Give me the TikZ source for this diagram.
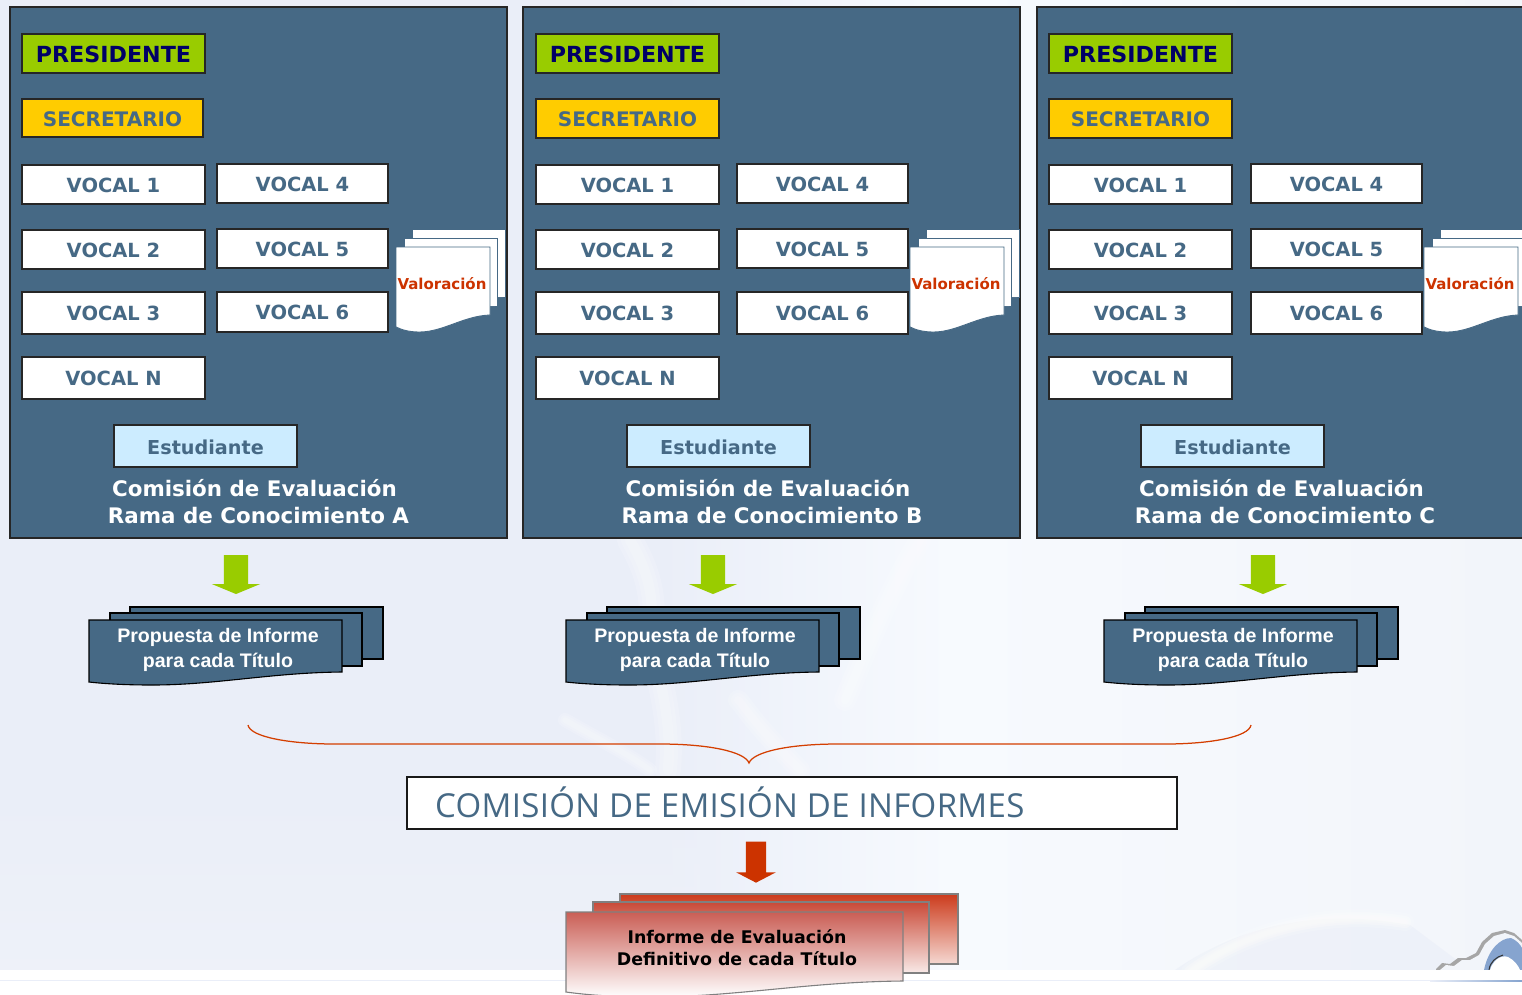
\documentclass[tikz,border=0pt]{standalone}
\usepackage{fontspec}
\setmainfont{DejaVu Sans}
\newfontfamily\arialf{Liberation Sans}
\newfontfamily\lightf[LetterSpace=1]{Open Sans}
\usetikzlibrary{shapes.arrows,calc}
\definecolor{panelblue}{HTML}{466985}
\definecolor{bgblue}{HTML}{EAEEF8}
\definecolor{bgpale}{HTML}{F7FAFE}
\definecolor{bgright}{HTML}{F2F5FA}
\definecolor{limeg}{HTML}{99CC00}
\definecolor{gold}{HTML}{FFCC00}
\definecolor{redo}{HTML}{CC3300}
\definecolor{pale}{HTML}{CCECFF}
\definecolor{navy}{HTML}{000066}
\definecolor{emblem}{HTML}{86A4CF}
\tikzset{
 panel/.style={draw=black!85,line width=1.2pt,fill=panelblue},
 bx/.style={draw=black!85,line width=1.2pt,inner sep=0pt,font=\bfseries\fontsize{19.5}{20}\selectfont},
 presbox/.style={bx,fill=limeg,text=navy,text height=18.2pt,text depth=0pt,font=\bfseries\fontsize{22.2}{22}\selectfont},
 secbox/.style={bx,fill=gold,text=panelblue,text height=16.6pt,text depth=0pt,font=\bfseries\fontsize{20}{20}\selectfont},
 vocalbox/.style={bx,fill=white,text=panelblue,text height=15.6pt,text depth=0pt},
 estbox/.style={bx,fill=pale,text=panelblue,text height=16.6pt,text depth=0pt,font=\bfseries\fontsize{19.2}{20}\selectfont},
 paneltext/.style={text=white,inner sep=0pt,font=\bfseries\fontsize{21.4}{21}\selectfont},
 valpage/.style={draw=panelblue,line width=.9pt,fill=white},
 proppage/.style={draw=black,line width=1.1pt,fill=panelblue},
 inf/.style={draw=black!50,line width=1.1pt},
 gr/.style={single arrow,draw=none,fill=limeg,inner sep=0pt,minimum width=48pt,minimum height=39pt,
   single arrow head extend=12pt,single arrow tip angle=135,shape border rotate=270},
 rd/.style={single arrow,draw=none,fill=redo,inner sep=0pt,minimum width=39pt,minimum height=41pt,
   single arrow head extend=9.5pt,single arrow tip angle=125,shape border rotate=270},
 streak/.style={draw=white,line cap=round,opacity=.16},
}
% name, style, x1, y1, x2, y2, text
\newcommand{\bxn}[7]{\node[#2,minimum width={(#5-#3)*1pt},minimum height={(#6-#4)*1pt}] (#1) at ({(#3+#5)/2},{(#4+#6)/2}) {#7};}
% style, left, top, width, height-at-right, low, leftdrop
\newcommand{\wavepage}[7]{\path[#1] (#2,#3) -- ({#2+#4},#3) -- ({#2+#4},{#3+#5})
  .. controls ({#2+.72*#4},{#3+#5+.05*#6}) and ({#2+.5*#4},{#3+#5+#6}) .. ({#2+.25*#4},{#3+#5+#6})
  .. controls ({#2+.15*#4},{#3+#5+#6}) and ({#2+.07*#4},{#3+#5+#6-.35*(#6-#7)}) .. (#2,{#3+#5+#7}) -- cycle;}
% soft stroke
\newcommand{\softstreak}[2]{\path[streak,line width=#1*1pt] #2; \path[streak,line width=#1*.7pt] #2; \path[streak,line width=#1*.4pt] #2;}
\newcommand{\comision}[9]{%
  \bxn{#1p}{panel}{#2}{7}{#2+497}{538}{}
  \bxn{#1pres}{presbox}{#3}{34}{#3+183}{73}{PRESIDENTE}
  \bxn{#1sec}{secbox}{#3+\secdx}{99+\secdx}{#3+183+\secdx}{138}{SECRETARIO}
  \bxn{#1v1}{vocalbox}{#3}{165}{#3+183}{204}{VOCAL 1}
  \bxn{#1v2}{vocalbox}{#3}{230}{#3+183}{269}{VOCAL 2}
  \bxn{#1v3}{vocalbox}{#3}{292}{#3+183}{334}{VOCAL 3}
  \bxn{#1vn}{vocalbox}{#3}{357}{#3+183}{399}{VOCAL N}
  \bxn{#1v4}{vocalbox}{#4}{164}{#4+171}{203}{VOCAL 4}
  \bxn{#1v5}{vocalbox}{#4}{229}{#4+171}{268}{VOCAL 5}
  \bxn{#1v6}{vocalbox}{#4}{292+\secdx}{#4+171}{334+\secdx}{VOCAL 6}
  \bxn{#1est}{estbox}{#5}{425}{#5+183}{467}{Estudiante}
  \node[paneltext] (#1t1) at (#7,488) {Comisión de Evaluación};
  \node[paneltext] (#1t2) at (#8,516) {Rama de Conocimiento #6};
  \wavepage{valpage}{#9+16}{229}{93}{68}{0}{0}
  \wavepage{valpage}{#9+8}{238}{93.5}{68}{0}{0}
  \wavepage{valpage}{#9}{247}{94}{68}{17}{12}
  \node[text=redo,inner sep=0pt,font=\bfseries\fontsize{15}{15}\selectfont] (#1val) at (#9+46,283.5) {Valoración};
}
% prefix, x of front page, x of arrow
\newcommand{\propuesta}[3]{%
  \node[gr] (#1arr) at (#3,572) {\phantom{\rule{24pt}{24pt}}};
  \wavepage{proppage}{#2+41}{607}{253}{52}{0}{0}
  \wavepage{proppage}{#2+21}{613}{252}{53}{0}{0}
  \wavepage{proppage}{#2}{620}{253}{52}{13}{10}
  \node[text=white,inner sep=0pt,align=center,font=\arialf\bfseries\fontsize{19.6}{25}\selectfont] (#1prop) at (#2+129,649.5) {Propuesta de Informe\\para cada Título};
}
\begin{document}
\begin{tikzpicture}[x=1pt,y=-1pt]
\useasboundingbox (0,0) rectangle (1522,994);
\clip (0,0) rectangle (1522,994);
% background
\fill[white] (0,0) rectangle (1522,994);
\fill[bgblue] (0,0) rectangle (660,970);
\path[left color=bgblue,right color=bgpale] (660,0) rectangle (950,970);
\path[left color=bgpale,right color=bgright] (950,0) rectangle (1522,970);
\path[top color=bgblue,bottom color=bgright,opacity=.5] (0,780) rectangle (700,970);
\softstreak{26}{(630,540) .. controls (650,575) and (655,600) .. (650,640) .. controls (660,680) and (672,720) .. (668,770)}
\softstreak{20}{(800,770) .. controls (750,720) and (740,700) .. (738,700)}
\softstreak{22}{(920,540) .. controls (890,590) and (870,640) .. (845,700)}
\softstreak{14}{(565,720) .. controls (600,740) and (630,755) .. (650,770)}
% arc at lower right
\fill[bgblue,opacity=.6] (1175,970) .. controls (1240,925) and (1320,908) .. (1410,925) -- (1470,970) -- cycle;
\softstreak{18}{(1190,972) .. controls (1240,935) and (1320,908) .. (1405,922)}
\softstreak{12}{(1190,972) .. controls (1240,935) and (1320,908) .. (1405,922)}
% corner emblem
\fill[black!35] (1436,969) -- (1442,963) -- (1450,964) -- (1458,958) -- (1466,958) -- (1476,953) -- (1482,942) -- (1492,933) -- (1505,930) -- (1514,933) -- (1522,940) -- (1522,970) -- (1436,970) -- cycle;
\fill[bgright] (1440,970) -- (1446,965) -- (1454,966) -- (1462,960) -- (1470,960) -- (1479,955) -- (1485,944) -- (1494,936) -- (1505,933) -- (1514,936) -- (1522,943) -- (1522,970) -- cycle;
\fill[emblem] (1484,970) .. controls (1488,950) and (1500,938) .. (1511,938) .. controls (1516,940) and (1520,944) .. (1522,948) -- (1522,970) -- cycle;
\fill[white] (1490,970) .. controls (1492,962) and (1500,954) .. (1508,957) .. controls (1514,960) and (1518,965) .. (1520,970) -- cycle;
\draw[black!80,line width=1pt] (1489,970) .. controls (1490,962) and (1496,957) .. (1503,955);
\fill[white] (0,970) rectangle (1522,994);
\draw[bgblue,line width=.8pt] (0,980.5) -- (1522,980.5);
\path[left color=bgblue,right color=emblem] (1430,980) rectangle (1522,981.5);
%
\def\secdx{-1}
\comision{a}{10}{22}{217}{114}{A}{254.5}{258.5}{396}
\def\secdx{0}
\comision{b}{523}{536}{737}{627}{B}{768}{772}{910}
\comision{c}{1037}{1049}{1251}{1141}{C}{1281.5}{1285}{1424}
%
\propuesta{a}{89}{236}
\propuesta{b}{566}{713}
\propuesta{c}{1104}{1263}
% brace
\draw[redo!85!orange,line width=1.25pt] (248,725) .. controls (250,737) and (290,744) .. (335,744) -- (660,744) .. controls (710,744) and (745,752) .. (749,763) .. controls (753,752) and (788,744) .. (838,744) -- (1165,744) .. controls (1210,744) and (1249,737) .. (1251,725);
%
\bxn{emi}{draw=black!90,line width=1.2pt,fill=white,inner sep=0pt}{407}{777}{1177}{829}{}
\node[anchor=base west,inner sep=0pt,text=panelblue,font=\lightf\fontsize{33}{33}\selectfont] (emit) at (435,817) {COMISIÓN DE EMISIÓN DE INFORMES};
\node[rd] (rarr) at (756,859.5) {\phantom{\rule{20pt}{20pt}}};
%
\definecolor{infback}{HTML}{CC3B1C}
\definecolor{infmid}{HTML}{C94A38}
\definecolor{inffront}{HTML}{CA5E55}
\wavepage{inf,top color=infback,bottom color=infback!20}{620}{894}{338}{70}{0}{0}
\wavepage{inf,top color=infmid,bottom color=infmid!12}{593}{902}{336}{71}{0}{0}
\wavepage{inf,top color=inffront,bottom color=white}{566}{912}{337}{69}{16}{11}
\node[text=black,inner sep=0pt,align=center,font=\bfseries\fontsize{17.4}{22}\selectfont] (infd) at (737,947.5) {Informe de Evaluación\\Definitivo de cada Título};
\end{tikzpicture}
\end{document}
